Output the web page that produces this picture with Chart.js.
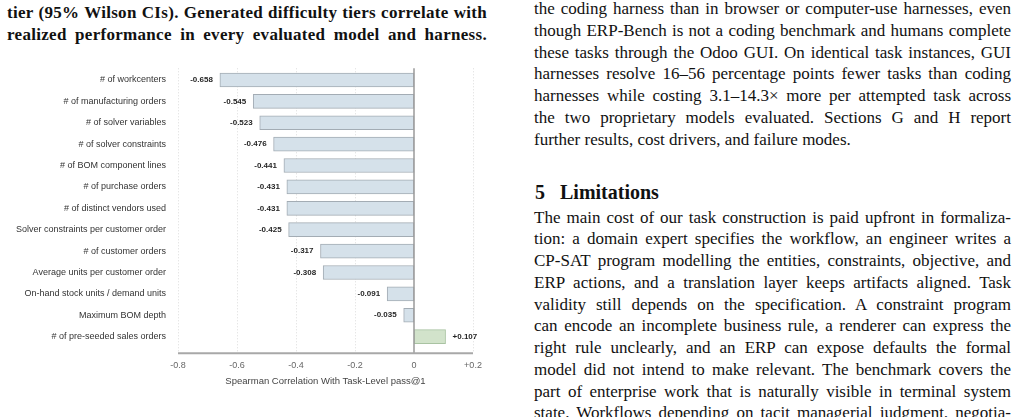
<!DOCTYPE html>
<html>
<head>
<meta charset="utf-8">
<script src="https://cdn.jsdelivr.net/npm/chart.js@4"></script>
<style>
  html, body { margin: 0; padding: 0; background: #fff; overflow: hidden; }
  body { width: 1024px; height: 417px; position: relative; font-family: 'Liberation Serif', serif; color: #111; }
  .ln { position: absolute; white-space: nowrap; text-align: justify; text-align-last: justify; font-size: 17px; line-height: 21.8px; }
  .cap { left: 7px; width: 480px; font-weight: bold; letter-spacing: 0.3px; }
  .col { left: 534px; width: 477px; }
  .last { text-align-last: left; }
  .head { position: absolute; left: 535px; top: 180px; font-size: 20px; line-height: 24px; font-weight: bold; white-space: pre; }
  #chartBox { position: absolute; left: 0; top: 60px; width: 500px; height: 340px; }
</style>
</head>
<body>

<div class="ln cap" style="top:2px">tier (95% Wilson CIs). Generated difficulty tiers correlate with</div>
<div class="ln cap" style="top:23.7px">realized performance in every evaluated model and harness.</div>

<div id="chartBox"><canvas id="corrChart"></canvas></div>

<div id="rightCol"></div>
<div class="head">5   Limitations</div>

<script>
const features = [
  '# of workcenters',
  '# of manufacturing orders',
  '# of solver variables',
  '# of solver constraints',
  '# of BOM component lines',
  '# of purchase orders',
  '# of distinct vendors used',
  'Solver constraints per customer order',
  '# of customer orders',
  'Average units per customer order',
  'On-hand stock units / demand units',
  'Maximum BOM depth',
  '# of pre-seeded sales orders'
];
const rho = [-0.658, -0.545, -0.523, -0.476, -0.441, -0.431, -0.431, -0.425, -0.317, -0.308, -0.091, -0.035, 0.107];
const xTicks = [-0.8, -0.6, -0.4, -0.2, 0, 0.2];

const para1 = [
  'the coding harness than in browser or computer-use harnesses, even',
  'though ERP-Bench is not a coding benchmark and humans complete',
  'these tasks through the Odoo GUI. On identical task instances, GUI',
  'harnesses resolve 16\u201356 percentage points fewer tasks than coding',
  'harnesses while costing 3.1\u201314.3\u00d7 more per attempted task across',
  'the two proprietary models evaluated. Sections G and H report',
  'further results, cost drivers, and failure modes.'
];
const para2 = [
  'The main cost of our task construction is paid upfront in formaliza-',
  'tion: a domain expert specifies the workflow, an engineer writes a',
  'CP-SAT program modelling the entities, constraints, objective, and',
  'ERP actions, and a translation layer keeps artifacts aligned. Task',
  'validity still depends on the specification. A constraint program',
  'can encode an incomplete business rule, a renderer can express the',
  'right rule unclearly, and an ERP can expose defaults the formal',
  'model did not intend to make relevant. The benchmark covers the',
  'part of enterprise work that is naturally visible in terminal system',
  'state. Workflows depending on tacit managerial judgment, negotia-'
];

// body text lines
const col = document.getElementById('rightCol');
function addLine(t, top, last) {
  const d = document.createElement('div');
  d.className = 'ln col' + (last ? ' last' : '');
  d.style.top = top + 'px';
  d.textContent = t;
  col.appendChild(d);
  return d;
}
para1.forEach((t, i) => addLine(t, -2 + 21.8 * i, i === para1.length - 1));
para2.forEach((t, i) => addLine(t, 206.5 + 21.75 * i, false));

// squeeze word spacing on any line wider than its column
document.querySelectorAll('.ln').forEach(d => {
  const probe = document.createElement('span');
  probe.textContent = d.textContent;
  d.textContent = '';
  d.appendChild(probe);
  const over = probe.getBoundingClientRect().width - d.clientWidth;
  const gaps = (probe.textContent.match(/ /g) || []).length;
  if (over > 0 && gaps) d.style.wordSpacing = (-over / gaps - 0.1) + 'px';
});

const fmt = v => (v > 0 ? '+' : '') + v.toFixed(3);

// dotted grid under the bars
const gridLines = {
  id: 'gridLines',
  beforeDatasetsDraw(chart) {
    const { ctx, chartArea, scales } = chart;
    ctx.save();
    ctx.strokeStyle = '#dcdcdc';
    ctx.lineWidth = 1;
    ctx.setLineDash([1, 2]);
    xTicks.forEach(v => {
      if (v === 0) return;
      const x = Math.round(scales.x.getPixelForValue(v)) + 0.5;
      ctx.beginPath();
      ctx.moveTo(x, chartArea.top - 1);
      ctx.lineTo(x, chartArea.bottom);
      ctx.stroke();
    });
    ctx.restore();
  }
};

// zero line, bottom axis and value labels
const barLabels = {
  id: 'barLabels',
  afterDatasetsDraw(chart) {
    const { ctx, chartArea, scales } = chart;
    const x0 = scales.x.getPixelForValue(0);
    ctx.save();
    ctx.strokeStyle = '#9a9a9a';
    ctx.lineWidth = 1.5;
    ctx.beginPath();
    ctx.moveTo(x0, chartArea.top - 1);
    ctx.lineTo(x0, chartArea.bottom);
    ctx.stroke();
    ctx.strokeStyle = '#a8a8a8';
    ctx.lineWidth = 2;
    ctx.beginPath();
    ctx.moveTo(chartArea.left, chartArea.bottom);
    ctx.lineTo(chartArea.right, chartArea.bottom);
    ctx.stroke();

    ctx.font = 'bold 8px "Liberation Sans", Arial, sans-serif';
    ctx.fillStyle = '#262626';
    ctx.textBaseline = 'middle';
    chart.getDatasetMeta(0).data.forEach((bar, i) => {
      const v = rho[i];
      if (v < 0) {
        ctx.textAlign = 'right';
        ctx.fillText(fmt(v), bar.x - 7, bar.y);
      } else {
        ctx.textAlign = 'left';
        ctx.fillText(fmt(v), bar.x + 7, bar.y);
      }
    });
    ctx.restore();
  }
};

new Chart(document.getElementById('corrChart'), {
  type: 'bar',
  data: {
    datasets: [{
      data: rho.map((v, i) => ({ x: v, y: i })),
      backgroundColor: rho.map(v => v >= 0 ? '#d2e3cb' : '#d5e1ea'),
      borderColor: rho.map(v => v >= 0 ? '#a9c3a2' : '#a3acb4'),
      borderWidth: 1,
      borderSkipped: false,
      barThickness: 14
    }]
  },
  options: {
    indexAxis: 'y',
    responsive: true,
    maintainAspectRatio: false,
    animation: false,
    layout: { padding: { left: 0, right: 27, top: 9.3, bottom: 12.7 } },
    scales: {
      x: {
        type: 'linear',
        min: -0.8,
        max: 0.2,
        afterBuildTicks: s => { s.ticks = xTicks.map(v => ({ value: v })); },
        afterFit: s => { s.height = 34; },
        grid: { display: false, drawTicks: false },
        border: { display: false },
        ticks: {
          padding: 7,
          color: '#666',
          font: { family: '"Liberation Sans", Arial, sans-serif', size: 9 },
          callback: v => Math.abs(v) < 1e-9 ? '0' : (v > 0 ? '+' + v.toFixed(1) : v.toFixed(1))
        },
        title: {
          display: true,
          text: 'Spearman Correlation With Task-Level pass@1',
          color: '#444',
          padding: 0,
          font: { family: '"Liberation Sans", Arial, sans-serif', size: 9.5 }
        }
      },
      y: {
        type: 'linear',
        reverse: true,
        offset: false,
        min: -0.5,
        max: 12.78,
        afterBuildTicks: s => { s.ticks = features.map((f, i) => ({ value: i })); },
        afterFit: s => { s.width = 178; s.paddingTop = 0; s.paddingBottom = 0; },
        grid: { display: false, drawTicks: false },
        border: { display: false },
        ticks: {
          padding: 12,
          color: '#333',
          font: { family: '"Liberation Sans", Arial, sans-serif', size: 9 },
          callback: v => features[v]
        }
      }
    },
    plugins: { legend: { display: false }, tooltip: { enabled: false } }
  },
  plugins: [gridLines, barLabels]
});
</script>
</body>
</html>
